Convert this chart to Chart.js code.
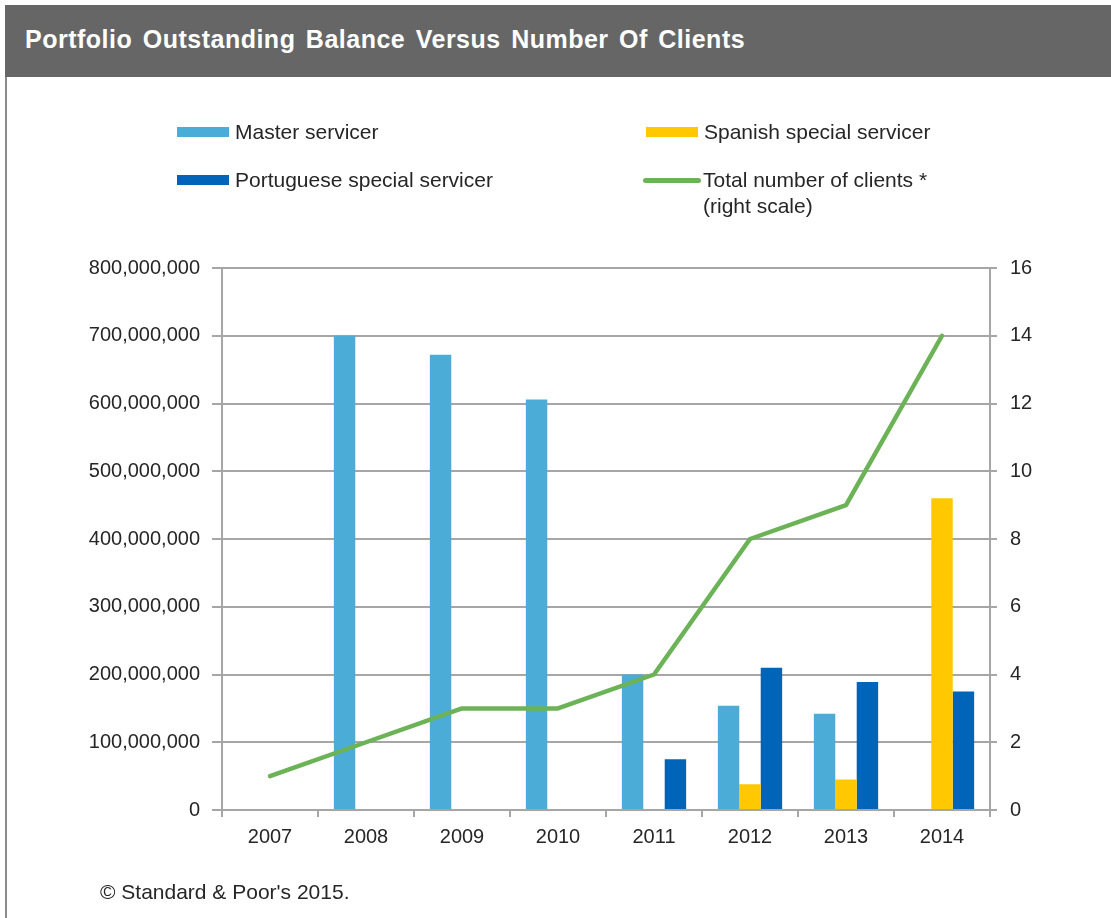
<!DOCTYPE html>
<html>
<head>
<meta charset="utf-8">
<script src="https://cdn.jsdelivr.net/npm/chart.js@4/dist/chart.umd.min.js"></script>
<style>
  html, body { margin: 0; padding: 0; background: #fff; }
  body { width: 1111px; height: 918px; position: relative; overflow: hidden; font-family: "Liberation Sans", Arial, sans-serif; }
  #c { position: absolute; left: 0; top: 0; }
  .abs { position: absolute; white-space: nowrap; }
  #titlebar { left: 5px; top: 5px; width: 1106px; height: 72px; background: #666666; }
  #title { left: 25px; top: 27px; color: #fff; font-weight: bold; font-size: 25px; line-height: 25px; letter-spacing: 0.5px; word-spacing: 3px; }
  #leftborder { left: 5px; top: 77px; width: 2px; height: 841px; background: #8a8a8a; }
  .lg-text { font-size: 21px; line-height: 26px; color: #262626; }
  #footer { left: 100px; top: 879px; font-size: 21px; line-height: 26px; color: #262626; }
</style>
</head>
<body>
<canvas id="c" width="1111" height="918"></canvas>
<div id="titlebar" class="abs"></div>
<div id="title" class="abs">Portfolio Outstanding Balance Versus Number Of Clients</div>
<div id="leftborder" class="abs"></div>
<div id="legend"></div>
<div id="footer" class="abs">© Standard &amp; Poor's 2015.</div>
<script>
// ---- data ----
const years = ['2007', '2008', '2009', '2010', '2011', '2012', '2013', '2014'];
const masterServicer = [null, 700000000, 672000000, 606000000, 200000000, 154000000, 142000000, null];
const spanishSpecial = [null, null, null, null, null, 38000000, 45000000, 460000000];
const portugueseSpecial = [null, null, null, null, 75000000, 210000000, 189000000, 175000000];
const totalClients = [1, 2, 3, 3, 4, 8, 9, 14];
const seriesNames = ['Master servicer', 'Spanish special servicer', 'Portuguese special servicer', 'Total number of clients *\n(right scale)'];
const leftTicks = [0, 100000000, 200000000, 300000000, 400000000, 500000000, 600000000, 700000000, 800000000];
const rightTicks = [0, 2, 4, 6, 8, 10, 12, 14, 16];

// ---- styles ----
const colors = ['#4BACD7', '#FFC800', '#0064B8', '#6BB356'];
const FONT = '"Liberation Sans", Arial, sans-serif';
const TXT = '#262626';
const GRID = '#a6a6a6';

const ctx = document.getElementById('c').getContext('2d');
new Chart(ctx, {
  data: {
    labels: years,
    datasets: [
      { type: 'line', label: seriesNames[3], data: totalClients, yAxisID: 'y1', order: 0,
        borderColor: colors[3], backgroundColor: colors[3], borderWidth: 4.5, pointRadius: 0,
        tension: 0, borderJoinStyle: 'round', borderCapStyle: 'round' },
      { type: 'bar', label: seriesNames[0], data: masterServicer, yAxisID: 'y', order: 1,
        backgroundColor: colors[0], barPercentage: 1, categoryPercentage: 0.67 },
      { type: 'bar', label: seriesNames[1], data: spanishSpecial, yAxisID: 'y', order: 1,
        backgroundColor: colors[1], barPercentage: 1, categoryPercentage: 0.67 },
      { type: 'bar', label: seriesNames[2], data: portugueseSpecial, yAxisID: 'y', order: 1,
        backgroundColor: colors[2], barPercentage: 1, categoryPercentage: 0.67 }
    ]
  },
  options: {
    responsive: false,
    animation: false,
    devicePixelRatio: 1,
    layout: { padding: { top: 268, bottom: 0, left: 0, right: 0 } },
    plugins: { legend: { display: false }, title: { display: false }, tooltip: { enabled: false } },
    scales: {
      x: {
        grid: { offset: true, drawOnChartArea: false, tickLength: 7, color: GRID, lineWidth: 2 },
        border: { color: GRID, width: 2 },
        ticks: { font: { family: FONT, size: 20 }, color: TXT, padding: 8 },
        afterFit: s => { s.height = 108; }
      },
      y: {
        position: 'left', min: 0, max: leftTicks[leftTicks.length - 1],
        afterBuildTicks: s => { s.ticks = leftTicks.map(v => ({ value: v })); },
        grid: { color: GRID, lineWidth: 2, tickLength: 10 },
        border: { color: GRID, width: 2 },
        ticks: { font: { family: FONT, size: 20 }, color: TXT, padding: 12,
          callback: v => Number(v).toLocaleString('en-US') },
        afterFit: s => { s.width = 222; }
      },
      y1: {
        position: 'right', min: 0, max: rightTicks[rightTicks.length - 1],
        afterBuildTicks: s => { s.ticks = rightTicks.map(v => ({ value: v })); },
        grid: { drawOnChartArea: false, color: GRID, lineWidth: 2, tickLength: 7 },
        border: { color: GRID, width: 2 },
        ticks: { font: { family: FONT, size: 20 }, color: TXT, padding: 13 },
        afterFit: s => { s.width = 121; }
      }
    }
  }
});

// ---- HTML legend built from series names / colours ----
const legend = document.getElementById('legend');
const items = [
  { name: seriesNames[0], color: colors[0], kind: 'box', x: 177, y: 127 },
  { name: seriesNames[1], color: colors[1], kind: 'box', x: 646, y: 127 },
  { name: seriesNames[2], color: colors[2], kind: 'box', x: 177, y: 175 },
  { name: seriesNames[3], color: colors[3], kind: 'line', x: 643, y: 175 }
];
items.forEach(it => {
  const sw = document.createElement('div');
  sw.className = 'abs';
  if (it.kind === 'box') {
    Object.assign(sw.style, { left: it.x + 'px', top: it.y + 'px', width: '52px', height: '10px', background: it.color });
  } else {
    Object.assign(sw.style, { left: it.x + 'px', top: (it.y + 3) + 'px', width: '58px', height: '5px', background: it.color, borderRadius: '3px' });
  }
  legend.appendChild(sw);
  const tx = document.createElement('div');
  tx.className = 'abs lg-text';
  tx.style.left = (it.kind === 'box' ? it.x + 58 : it.x + 60) + 'px';
  tx.style.top = (it.y - 8) + 'px';
  tx.innerHTML = it.name.split('\n').join('<br>');
  legend.appendChild(tx);
});
</script>
</body>
</html>
